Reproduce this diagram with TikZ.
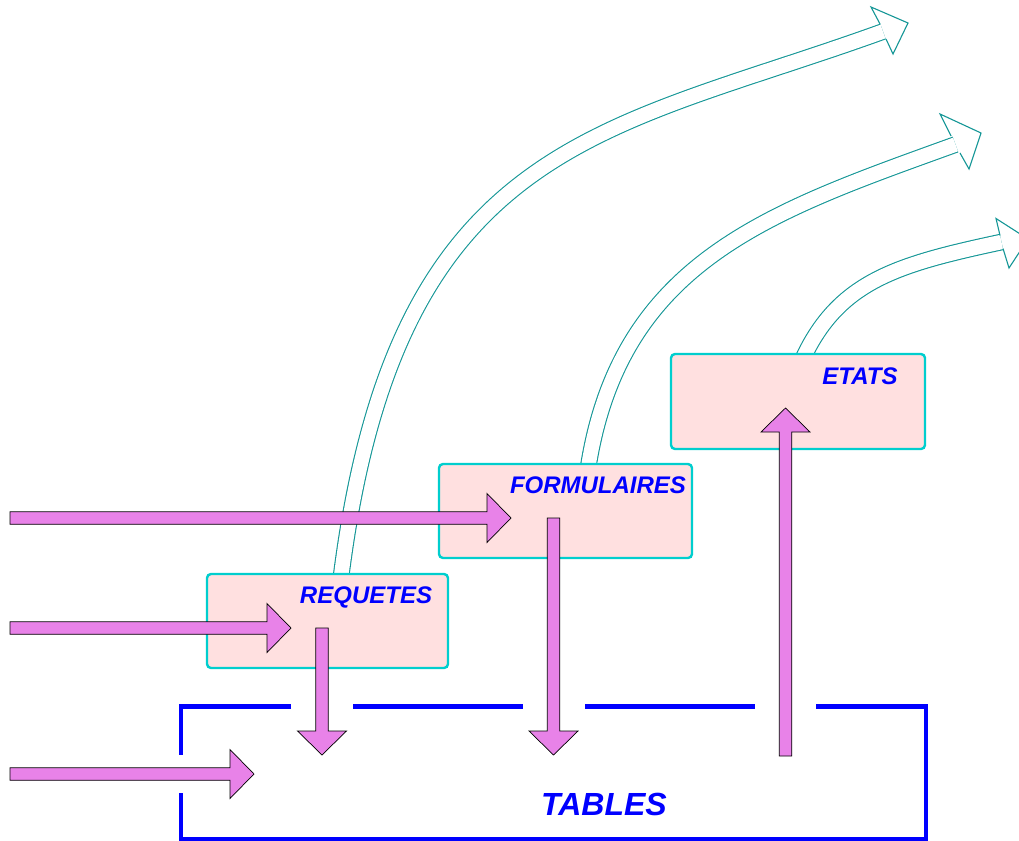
\documentclass[tikz,border=0pt]{standalone}
\usepackage{fontspec}
\newfontfamily\arialfont{Liberation Sans}
\definecolor{tealline}{RGB}{20,150,150}
\definecolor{boxcyan}{RGB}{0,206,206}
\definecolor{boxpink}{RGB}{255,224,224}
\definecolor{fatviolet}{RGB}{232,130,232}
\definecolor{tblue}{RGB}{0,0,255}
\begin{document}
\begin{tikzpicture}[x=1pt,y=-1pt,
  flow/.style={draw=tealline, line width=1.1pt, double=white, double distance=14.5pt},
  flowhead/.style={draw=tealline, line width=1.1pt, line join=miter},
  box/.style={draw=boxcyan, fill=boxpink, line width=2.4pt, rounded corners=4pt, inner sep=0pt},
  lbl/.style={text=tblue, font=\arialfont\bfseries\itshape\fontsize{24}{28}\selectfont, inner sep=0pt, anchor=base},
  biglbl/.style={text=tblue, font=\arialfont\bfseries\itshape\fontsize{32}{36}\selectfont, inner sep=0pt, anchor=base},
  fat/.style={fill=fatviolet, draw=black, line width=0.7pt, line join=miter},
  tbl/.style={draw=tblue, line width=4.8pt},
  pics/fatarrow/.style={code={\draw[fat] (0,-6.25) -- (#1-24,-6.25) -- (#1-24,-24.5) -- (#1,0) -- (#1-24,24.5) -- (#1-24,6.25) -- (0,6.25) -- cycle;}}
]
\useasboundingbox (0,0) rectangle (1019,840);
\clip (0,0) rectangle (1019,840);

% end points of the teal hollow flows
\coordinate (fa0) at (340,585);  \coordinate (fa1) at (883,31.5);
\coordinate (fb0) at (587,475);  \coordinate (fb1) at (955.5,144.5);
\coordinate (fc0) at (800,365);  \coordinate (fc1) at (1001.5,242);

% teal hollow flows
\draw[flow] (fa0) .. controls (394,139.5) and (601,133.5) .. (fa1);
\draw[flowhead] (880,24) -- (871,7) -- (908,23) -- (893,54) -- (886,39);

\draw[flow] (fb0) .. controls (617,262) and (767.5,212.5) .. (fb1);
\draw[flowhead] (951,136) -- (940,114) -- (981,133) -- (969,169) -- (960,153);

\draw[flow] (fc0) .. controls (836,282) and (894,265) .. (fc1);
\draw[flowhead] (1000,235.5) -- (996,218.5) -- (1028,239) -- (1009,268) -- (1003,248.5);

% boxes
\node[box, minimum width=241pt, minimum height=94pt] (req) at (327.5,621) {};
\node[box, minimum width=253pt, minimum height=94pt] (form) at (565.5,511) {};
\node[box, minimum width=254pt, minimum height=95pt] (etats) at (798,401.5) {};

% table frame
\draw[tbl] (291,706.5) -- (181,706.5) -- (181,755);
\draw[tbl] (181,793) -- (181,839) -- (926,839) -- (926,706.5) -- (816,706.5);
\draw[tbl] (353,706.5) -- (523,706.5);
\draw[tbl] (585,706.5) -- (755,706.5);

% fat violet arrows
\coordinate (in1) at (10,518);
\coordinate (in2) at (10,628);
\coordinate (in3) at (10,774);
\coordinate (rq) at (322,628);
\coordinate (fm) at (553.5,518);
\coordinate (et) at (785.5,756);
\pic at (in1) {fatarrow=501};
\pic at (in2) {fatarrow=281};
\pic at (in3) {fatarrow=244};
\pic[rotate=-90] at (rq) {fatarrow=127};
\pic[rotate=-90] at (fm) {fatarrow=237};
\pic[rotate=90] at (et) {fatarrow=348};

% labels
\node[lbl] (reqlbl) at (366,603) {REQUETES};
\node[lbl] (formlbl) at (598,493) {FORMULAIRES};
\node[lbl] (etatslbl) at (860,384) {ETATS};
\node[biglbl] (tablbl) at (604,815) {TABLES};
\end{tikzpicture}
\end{document}
